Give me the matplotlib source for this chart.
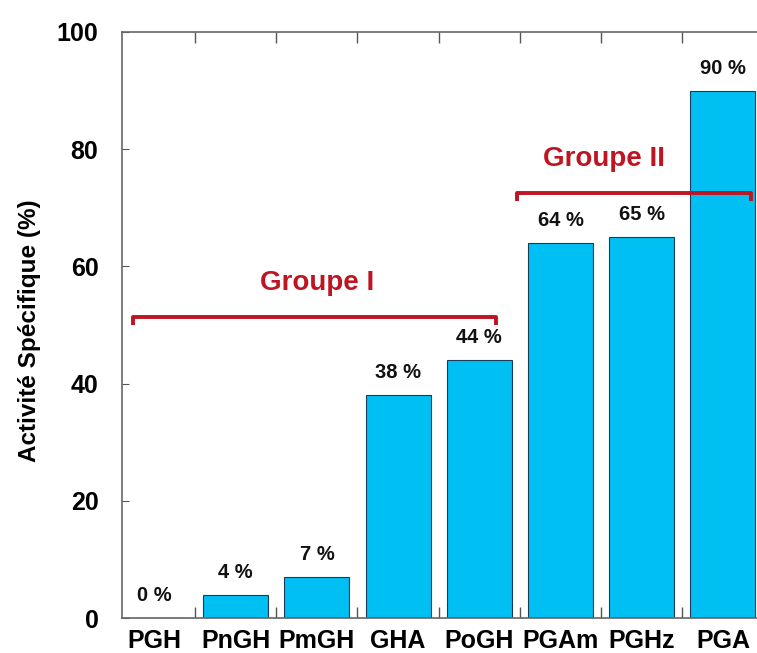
import matplotlib.pyplot as plt
import numpy as np

categories = ['PGH', 'PnGH', 'PmGH', 'GHA', 'PoGH', 'PGAm', 'PGHz', 'PGA']
activity = [0, 4, 7, 38, 44, 64, 65, 90]
value_labels = ['0 %', '4 %', '7 %', '38 %', '44 %', '64 %', '65 %', '90 %']

groups = ['Groupe I', 'Groupe II']
group_span = [(-0.265, 4.21), (4.47, 7.35)]
group_level = [51.3, 72.5]
group_label_x = [2.0, 5.53]

plt.rcParams['font.family'] = ['Liberation Sans', 'DejaVu Sans']
plt.rcParams['font.weight'] = 'bold'

fig = plt.figure(figsize=(7.57, 6.53), dpi=100)
ax = fig.add_axes([122 / 757, 35 / 653, 1 - 122 / 757, (618 - 32) / 653])

x = np.arange(len(categories))
ax.bar(x, activity, width=0.8, color='#00BFF3', edgecolor='#1a3c5a', linewidth=0.8, zorder=2)

# value labels above the bars
for xi, v, lab in zip(x, activity, value_labels):
    ax.text(xi, v + 2.2, lab, ha='center', va='bottom', fontsize=14.5, fontweight='bold', color='#111111')

# group brackets
red = '#BE1522'
for name, (x0, x1), lvl, lx in zip(groups, group_span, group_level, group_label_x):
    ax.plot([x0, x0, x1, x1], [lvl - 1.3, lvl, lvl, lvl - 1.3], color=red, lw=2.8,
            solid_capstyle='butt', zorder=3, clip_on=False)
    ax.text(lx, lvl + 4.6, name, ha='center', va='baseline', fontsize=20,
            fontweight='bold', color=red)

ax.set_xlim(-0.4, 7.42)
ax.set_ylim(0, 100)
ax.set_xticks(x)
ax.set_xticklabels(categories, fontsize=18, fontweight='bold')
ax.set_xticks(x[:-1] + 0.5, minor=True)
ax.tick_params(axis='x', which='major', length=0, pad=8)
ax.tick_params(axis='x', which='minor', direction='in', length=8, top=True, bottom=True,
               color='#555555', width=1)
ax.set_yticks([0, 20, 40, 60, 80, 100])
ax.tick_params(axis='y', direction='in', length=5, pad=17, labelsize=18, color='#555555')
for t in ax.get_yticklabels():
    t.set_fontweight('bold')

ax.spines['right'].set_visible(False)
for s in ['left', 'top', 'bottom']:
    ax.spines[s].set_color('#666666')
    ax.spines[s].set_linewidth(1.2)

ax.set_ylabel('Activité Spécifique (%)', fontsize=17.5, fontweight='bold')
ax.yaxis.set_label_coords(-0.128, 0.49)

fig.savefig('out.png', dpi=100)
